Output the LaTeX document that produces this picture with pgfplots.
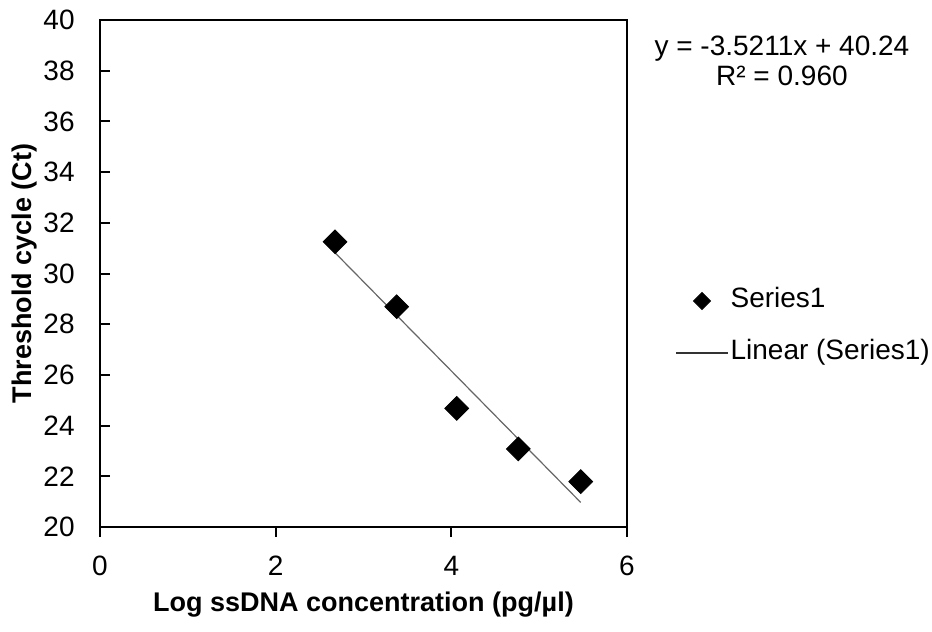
\documentclass[border=0pt]{standalone}
\usepackage{fontspec}
\setmainfont{Liberation Sans}
\usepackage{pgfplots}
\pgfplotsset{compat=1.18}
\pgfplotsset{
    marklegend/.style={legend image code/.code={\draw[mark repeat=2, mark phase=2, ##1, mark size=3pt]
        plot coordinates {(0pt,0pt) (13pt,0pt) (26pt,0pt)};}},
    linelegend/.style={legend image code/.code={\draw[black!80, line width=0.6pt] (0pt,0pt) -- (26pt,0pt);}},
}
\begin{document}
\begin{tikzpicture}
\begin{axis}[
    at={(0,0)}, anchor=south west,
    scale only axis, clip=false,
    width=263.5pt, height=253.5pt,
    xmin=0, xmax=6, ymin=20, ymax=40,
    xtick={0,2,4,6}, ytick={20,22,...,40},
    xtick pos=left, ytick pos=left,
    xtick align=outside, ytick align=inside,
    major tick length=5pt,
    axis line style={line width=1pt},
    major tick style={black, line width=1pt},
    /pgf/number format/assume math mode=true,
    tick label style={font=\fontsize{14}{16}\selectfont},
    yticklabel style={inner xsep=12.5pt},
    xticklabel style={inner ysep=9.2pt},
    xlabel={Log ssDNA concentration (pg/µl)},
    ylabel={Threshold cycle (Ct)},
    label style={font=\fontsize{13.5}{16}\selectfont\bfseries},
    x label style={at={(axis description cs:0.5,-0.1538)}, anchor=center},
    y label style={at={(axis description cs:-0.1423,0.5)}, anchor=center},
    legend style={at={(rel axis cs:1.0911,0.3945)}, anchor=west, draw=none, fill=none,
        inner xsep=0pt, inner ysep=0pt, row sep=11pt,
        font=\fontsize{14}{16}\selectfont,
        nodes={inner sep=1pt, text height=10pt, text depth=3pt}},
    legend cell align=left,
]
\addplot[only marks, mark=square*, mark size=4.2pt,
    mark options={rotate=45, fill=black, draw=black}, marklegend]
coordinates {(2.676,31.25)(3.378,28.69)(4.061,24.68)(4.763,23.08)(5.473,21.79)};
\addlegendentry{Series1}
\addplot[black!60, line width=0.6pt, linelegend]
coordinates {(2.676,30.818)(5.473,20.969)};
\addlegendentry{Linear (Series1)}
\node[align=center, font=\fontsize{14}{15}\selectfont] at (rel axis cs:1.294,0.919)
    {y = -3.5211x + 40.24\\R² = 0.960};
\end{axis}
\pgfresetboundingbox
\useasboundingbox (-50pt,-52.5pt) rectangle (416pt,263.5pt);
\end{tikzpicture}
\end{document}
